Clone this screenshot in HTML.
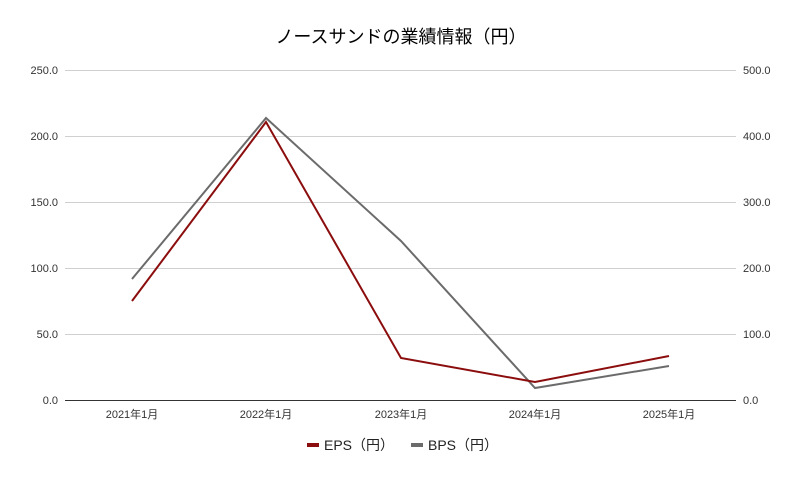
<!DOCTYPE html>
<html><head><meta charset="utf-8"><style>
body{margin:0;background:#fff}
svg text{font-family:"Liberation Sans","Noto Sans CJK JP",sans-serif}
</style></head><body>
<svg width="802" height="479" viewBox="0 0 802 479" xmlns="http://www.w3.org/2000/svg">
<rect width="802" height="479" fill="#fff"/>
<text x="401" y="43" text-anchor="middle" font-size="18" fill="#000">ノースサンドの業績情報（円）</text>
<g stroke="#d0d0d0" stroke-width="1">
<line x1="65" y1="70.5" x2="736" y2="70.5"/>
<line x1="65" y1="136.5" x2="736" y2="136.5"/>
<line x1="65" y1="202.5" x2="736" y2="202.5"/>
<line x1="65" y1="268.5" x2="736" y2="268.5"/>
<line x1="65" y1="334.5" x2="736" y2="334.5"/>
</g>
<line x1="65" y1="400.5" x2="736" y2="400.5" stroke="#333" stroke-width="1"/>
<g font-size="11" fill="#333" text-anchor="end">
<text x="58" y="74">250.0</text><text x="58" y="140">200.0</text><text x="58" y="206">150.0</text>
<text x="58" y="272">100.0</text><text x="58" y="338">50.0</text><text x="58" y="404">0.0</text>
</g>
<g font-size="11" fill="#333" text-anchor="start">
<text x="743" y="74">500.0</text><text x="743" y="140">400.0</text><text x="743" y="206">300.0</text>
<text x="743" y="272">200.0</text><text x="743" y="338">100.0</text><text x="743" y="404">0.0</text>
</g>
<g font-size="11" fill="#333" text-anchor="middle">
<text x="132" y="418">2021年1月</text><text x="266" y="418">2022年1月</text><text x="401" y="418">2023年1月</text>
<text x="535" y="418">2024年1月</text><text x="669" y="418">2025年1月</text>
</g>
<polyline points="132,279 266,118 401,241 535,388 669,366" fill="none" stroke="#6b6b6b" stroke-width="2"/>
<polyline points="132,301 266,122 401,358 535,382 669,356" fill="none" stroke="#8b0d0d" stroke-width="2"/>
<rect x="307" y="443" width="12" height="4" fill="#8b0d0d"/>
<text x="324" y="450" font-size="14" fill="#222">EPS（円）</text>
<rect x="411" y="443" width="12" height="4" fill="#6b6b6b"/>
<text x="428" y="450" font-size="14" fill="#222">BPS（円）</text>
</svg>
</body></html>
